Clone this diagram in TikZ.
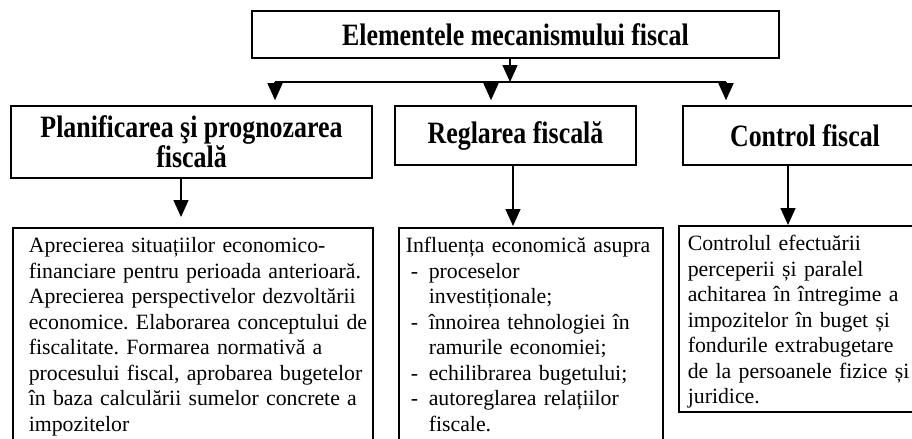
\documentclass[tikz,border=0pt]{standalone}
\usepackage{fontspec}
\setmainfont{Liberation Serif}
\usetikzlibrary{arrows.meta}

\tikzset{
  box/.style={draw, line width=0.8pt, rectangle, inner sep=0pt},
  headbox/.style={box, align=center, font=\fontsize{12.95}{14.9}\selectfont\bfseries},
  textbox/.style={box, anchor=north west, align=left, inner ysep=0pt, text height=12.5pt,
    font=\fontsize{10.9}{12.75}\selectfont\frenchspacing},
  arr/.style={line width=0.75pt, -{Triangle[length=8.5pt,width=7.5pt]}}
}
\newcommand{\itm}{\makebox[11.5pt][l]{\hspace{2.5pt}-}}
\newcommand{\ind}{\hspace*{11.5pt}}
\newcommand{\tall}[1]{\scalebox{1}[1.2]{#1}}

\begin{document}
\begin{tikzpicture}[x=0.5pt, y=-0.5pt]
\useasboundingbox (0,0) rectangle (912,439);
\clip (0,0) rectangle (912,439);

\node (top) at (515.5,34.5) [headbox, minimum width=263.5pt, minimum height=23.5pt] {\tall{Elementele mecanismului fiscal}};

\node (up1) at (191.5,142) [headbox, minimum width=180.5pt, minimum height=36pt] {\tall{Planificarea şi prognozarea}\\\tall{fiscală}};
\node (up2) at (515.5,135.5) [headbox, minimum width=120.5pt, minimum height=29.5pt] {\tall{Reglarea fiscală}};
\node (up3) at (818,135.5) [headbox, minimum width=135pt, minimum height=29.5pt] {\tall{Control fiscal}\hspace{13pt}};

\node (lo1) at (12,227) [textbox, inner xsep=0pt, text width=180pt, text depth=110pt] {\leftskip=8pt
Aprecierea situațiilor economico-\\
financiare pentru perioada anterioară.\\
Aprecierea perspectivelor dezvoltării\\
economice. Elaborarea conceptului de\\
fiscalitate. Formarea normativă a\\
procesului fiscal, aprobarea bugetelor\\
în baza calculării sumelor concrete a\\
impozitelor\par};
\node (lo2) at (398,227) [textbox, inner xsep=3.5pt, text width=125pt, text depth=110pt] {Influența economică asupra\\
\itm proceselor\\
\ind investiționale;\\
\itm înnoirea tehnologiei în\\
\ind ramurile economiei;\\
\itm echilibrarea bugetului;\\
\itm autoreglarea relațiilor\\
\ind fiscale.};
\node (lo3) at (678,225) [textbox, inner xsep=4.5pt, text width=125pt, text depth=80.5pt] {Controlul efectuării\\
perceperii și paralel\\
achitarea în întregime a\\
impozitelor în buget și\\
fondurile extrabugetare\\
de la persoanele fizice și\\
juridice.};

\coordinate (j0) at (510,82);
\coordinate (j1) at (275,82);
\coordinate (j2) at (491,82);
\coordinate (j3) at (726,82);
\coordinate (a1) at (181,200);
\coordinate (a2) at (513,200);
\coordinate (a3) at (788,200);

\draw [arr] (top.south -| j0) -- (j0);
\draw [line width=0.75pt] (j1) -- (j3);
\draw [arr, shorten >=2.5pt] (j1) -- (up1.north -| j1);
\draw [arr, shorten >=2.5pt] (j2) -- (up2.north -| j2);
\draw [arr, shorten >=2.5pt] (j3) -- (up3.north -| j3);
\draw [arr, shorten >=5pt] (up1.south -| a1) -- (lo1.north -| a1);
\draw [arr, shorten >=0.5pt] (up2.south -| a2) -- (lo2.north -| a2);
\draw [arr] (up3.south -| a3) -- (lo3.north -| a3);

\end{tikzpicture}
\end{document}
